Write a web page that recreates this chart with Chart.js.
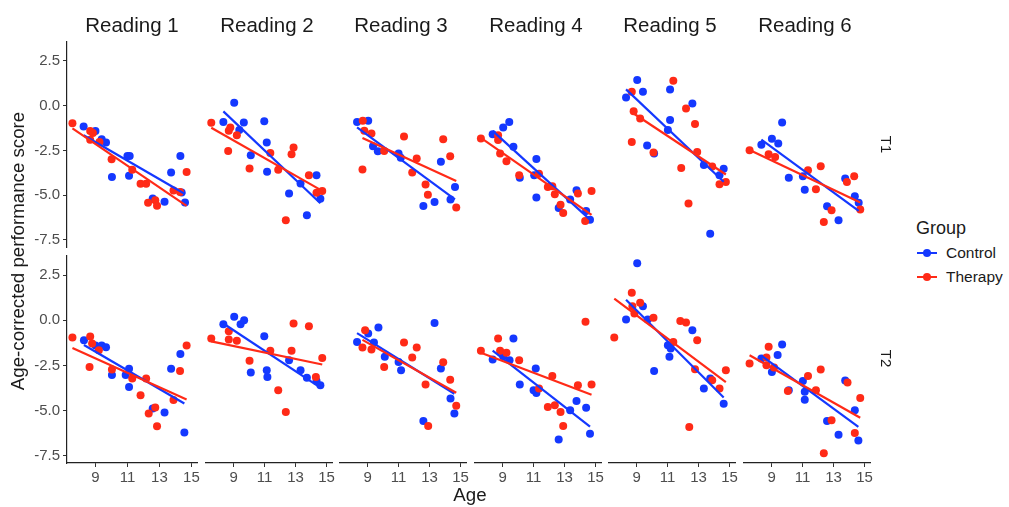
<!DOCTYPE html>
<html>
<head>
<meta charset="utf-8">
<script src="https://cdn.jsdelivr.net/npm/chart.js@4.4.0/dist/chart.umd.min.js"></script>
<style>
  body { margin: 0; background: #fff; width: 1009px; height: 507px; overflow: hidden; position: relative;
         font-family: "Liberation Sans", Arial, sans-serif; color: #1a1a1a; }
  canvas { position: absolute; }
  .lbl { position: absolute; white-space: nowrap; }
  .strip { font-size: 20.5px; text-align: center; width: 130px; top: 13px; }
  .side { font-size: 15px; transform: rotate(90deg); transform-origin: center; }
  .key { position: absolute; height: 2px; width: 20px; }
  .dot { position: absolute; width: 8px; height: 8px; border-radius: 50%; }
</style>
</head>
<body>
<div id="wrap"></div>
<script>
const readings = ["Reading 1", "Reading 2", "Reading 3", "Reading 4", "Reading 5", "Reading 6"];
const times = ["T1", "T2"];
const groups = ["Control", "Therapy"];
const ageTicks = [9, 11, 13, 15];
const scoreTicks = [-7.5, -5, -2.5, 0, 2.5];

// [age, score] pairs
const control_r1_t1 = [[8.26,-1.17],[9.0,-1.42],[9.39,-1.88],[9.66,-2.06],[10.03,-3.98],[11.0,-2.81],[11.14,-2.81],[11.1,-3.91],[12.58,-5.19],[13.32,-5.37],[13.73,-3.73],[14.31,-2.81],[14.39,-4.86],[14.6,-5.41]];
const therapy_r1_t1 = [[7.56,-0.98],[8.67,-1.42],[8.84,-1.53],[8.67,-1.9],[9.25,-2.03],[10.01,-2.99],[11.3,-3.58],[11.82,-4.37],[12.17,-4.37],[12.29,-5.42],[12.74,-5.29],[12.85,-5.6],[13.88,-4.74],[14.29,-4.83],[14.7,-3.71]];
const control_r2_t1 = [[8.34,-0.93],[9.04,0.12],[9.37,-1.38],[9.66,-0.96],[10.11,-2.76],[10.98,-0.89],[11.14,-2.06],[11.16,-3.67],[12.58,-4.86],[13.32,-4.31],[13.73,-6.05],[14.35,-3.86],[14.6,-5.14]];
const therapy_r2_t1 = [[7.56,-0.98],[8.65,-2.52],[8.69,-1.42],[8.79,-1.24],[9.21,-1.66],[10.03,-3.49],[11.37,-2.63],[11.88,-3.55],[12.37,-6.33],[12.74,-2.7],[12.87,-2.34],[13.86,-3.86],[14.35,-4.82],[14.72,-4.72]];
const control_r3_t1 = [[8.32,-0.93],[9.04,-0.87],[9.35,-2.26],[9.66,-2.54],[11.0,-2.67],[11.14,-2.89],[12.6,-5.54],[13.32,-5.32],[13.73,-3.12],[14.35,-5.19],[14.64,-4.5]];
const therapy_r3_t1 = [[8.67,-3.54],[8.69,-0.87],[8.79,-1.42],[9.25,-1.57],[10.07,-2.52],[11.35,-1.73],[11.88,-3.71],[12.17,-2.94],[12.74,-4.37],[12.89,-4.92],[13.88,-1.88],[14.33,-2.81],[14.72,-5.63]];
const control_r4_t1 = [[8.36,-1.61],[9.04,-1.24],[9.43,-0.93],[9.7,-2.3],[10.11,-3.99],[11.04,-3.86],[11.18,-2.96],[11.18,-5.08],[12.62,-5.65],[13.36,-5.19],[13.77,-4.68],[14.39,-5.82],[14.64,-6.3]];
const therapy_r4_t1 = [[7.6,-1.84],[8.71,-1.66],[8.71,-1.93],[8.84,-2.67],[9.25,-3.09],[10.07,-3.86],[11.35,-3.77],[11.92,-4.5],[12.21,-4.46],[12.37,-4.9],[12.74,-5.47],[12.91,-5.93],[13.86,-4.86],[14.33,-6.37],[14.74,-4.72]];
const control_r5_t1 = [[8.32,0.41],[9.04,1.36],[9.41,0.72],[9.68,-2.23],[10.13,-2.67],[11.02,-1.38],[11.16,0.85],[11.16,-0.83],[12.6,0.08],[13.34,-3.3],[13.75,-7.06],[14.35,-3.86],[14.62,-3.5]];
const therapy_r5_t1 = [[8.69,0.72],[8.69,-2.03],[8.81,-0.34],[9.23,-0.74],[10.09,-2.61],[11.37,1.32],[11.88,-3.46],[12.19,-0.19],[12.35,-5.41],[12.77,-1.05],[12.91,-2.58],[13.88,-3.37],[14.35,-4.35],[14.76,-4.22]];
const control_r6_t1 = [[8.34,-2.19],[9.02,-1.86],[9.43,-2.12],[9.68,-0.96],[10.11,-4.0],[11.02,-3.91],[11.14,-4.65],[12.58,-5.56],[13.32,-6.33],[13.75,-4.04],[14.37,-5.01],[14.62,-5.36]];
const therapy_r6_t1 = [[7.58,-2.48],[8.81,-2.7],[9.23,-2.85],[11.35,-3.58],[11.86,-4.63],[12.17,-3.36],[12.37,-6.42],[12.87,-5.78],[13.86,-4.22],[14.33,-3.91],[14.72,-5.74]];

const control_r1_t2 = [[8.28,-1.11],[9.0,-1.4],[9.39,-1.4],[9.66,-1.49],[10.03,-3.03],[10.89,-3.03],[11.1,-2.68],[11.1,-3.69],[12.58,-4.88],[13.32,-5.1],[13.73,-2.68],[14.31,-1.86],[14.56,-6.21]];
const therapy_r1_t2 = [[7.56,-0.95],[8.63,-2.58],[8.67,-0.89],[8.79,-1.29],[9.21,-1.66],[10.03,-2.72],[11.3,-3.22],[11.82,-4.15],[12.17,-3.22],[12.33,-5.16],[12.74,-4.83],[12.85,-5.87],[13.88,-4.41],[14.29,-2.81],[14.7,-1.4]];
const control_r2_t2 = [[8.34,-0.29],[9.04,0.12],[9.45,-0.29],[9.68,-0.07],[10.11,-2.94],[10.98,-0.95],[11.14,-2.81],[11.18,-3.18],[12.58,-2.27],[13.32,-2.81],[13.73,-3.23],[14.35,-3.4],[14.6,-3.64]];
const therapy_r2_t2 = [[7.56,-1.07],[8.69,-0.67],[8.69,-1.13],[9.21,-1.2],[10.03,-2.3],[11.37,-1.75],[11.88,-3.91],[12.37,-5.1],[12.74,-1.75],[12.87,-0.25],[13.86,-0.4],[14.31,-3.18],[14.72,-2.14]];
const control_r3_t2 = [[8.32,-1.27],[9.04,-0.8],[9.41,-1.29],[9.7,-0.47],[10.11,-2.08],[11.0,-2.36],[11.16,-2.81],[12.6,-5.6],[13.32,-0.22],[13.73,-2.72],[14.35,-4.37],[14.6,-5.19]];
const therapy_r3_t2 = [[8.67,-1.57],[8.84,-0.62],[9.25,-1.68],[10.07,-2.63],[11.35,-1.29],[11.88,-2.12],[12.17,-1.57],[12.74,-3.59],[12.91,-5.87],[13.88,-2.38],[14.33,-3.33],[14.72,-4.76]];
const control_r4_t2 = [[8.36,-2.23],[9.04,-2.05],[9.45,-2.26],[9.7,-1.07],[10.11,-3.6],[11.0,-3.91],[11.14,-2.72],[11.18,-4.06],[12.62,-6.61],[13.36,-5.01],[13.77,-4.5],[14.39,-4.87],[14.64,-6.3]];
const therapy_r4_t2 = [[7.6,-1.75],[8.71,-1.07],[8.84,-1.75],[9.25,-1.86],[10.07,-2.26],[11.35,-3.82],[11.92,-4.83],[12.21,-3.13],[12.37,-4.74],[12.74,-5.11],[12.91,-5.87],[13.86,-3.64],[14.35,-0.16],[14.74,-3.59]];
const control_r5_t2 = [[8.32,-0.03],[9.04,3.05],[9.41,0.7],[9.72,-0.03],[10.13,-2.85],[11.02,-1.44],[11.12,-2.08],[11.2,-1.62],[12.6,-0.62],[13.34,-3.82],[13.75,-3.27],[14.62,-4.65]];
const therapy_r5_t2 = [[7.56,-1.02],[8.69,1.44],[8.73,0.7],[8.86,0.3],[9.23,0.89],[10.09,0.06],[11.37,-1.26],[11.82,-0.12],[12.19,-0.19],[12.4,-5.93],[12.77,-2.76],[12.91,-1.17],[13.88,-3.36],[14.35,-3.82],[14.76,-2.81]];
const control_r6_t2 = [[8.34,-2.17],[9.02,-2.91],[9.39,-1.98],[9.68,-1.4],[10.11,-3.91],[11.02,-3.4],[11.14,-4.0],[11.14,-4.43],[12.58,-5.6],[13.32,-6.35],[13.75,-3.38],[14.37,-5.01],[14.6,-6.66]];
const therapy_r6_t2 = [[7.58,-2.45],[8.67,-2.12],[8.67,-2.54],[8.81,-1.53],[9.16,-2.67],[10.05,-3.95],[11.35,-3.13],[11.86,-3.91],[12.17,-2.78],[12.37,-7.36],[12.87,-5.56],[13.9,-3.49],[14.37,-6.25],[14.72,-4.33]];

const controlSets = [
  [control_r1_t1, control_r2_t1, control_r3_t1, control_r4_t1, control_r5_t1, control_r6_t1],
  [control_r1_t2, control_r2_t2, control_r3_t2, control_r4_t2, control_r5_t2, control_r6_t2]
];
const therapySets = [
  [therapy_r1_t1, therapy_r2_t1, therapy_r3_t1, therapy_r4_t1, therapy_r5_t1, therapy_r6_t1],
  [therapy_r1_t2, therapy_r2_t2, therapy_r3_t2, therapy_r4_t2, therapy_r5_t2, therapy_r6_t2]
];

const BLUE = "#1438ff";
const RED = "#ff2a17";
const panelLeft = [67, 202, 336, 471, 605, 740];
const rowTop = [40, 254];
const PW = 130, PH = 209, PAD = 10, YAXW = 50, XAXH = 30;

// straight lm fit over the group's age range (geom_smooth method = "lm")
function fitLine(pts) {
  const n = pts.length;
  const mx = pts.reduce((s, p) => s + p[0], 0) / n;
  const my = pts.reduce((s, p) => s + p[1], 0) / n;
  let sxy = 0, sxx = 0;
  pts.forEach(p => { sxy += (p[0] - mx) * (p[1] - my); sxx += (p[0] - mx) ** 2; });
  const b = sxy / sxx, a = my - b * mx;
  const xs = pts.map(p => p[0]);
  const x0 = Math.min(...xs), x1 = Math.max(...xs);
  return [{ x: x0, y: a + b * x0 }, { x: x1, y: a + b * x1 }];
}

const wrap = document.getElementById("wrap");
const tickFont = { family: "'Liberation Sans', Arial, sans-serif", size: 15 };

function addLabel(text, cls, style) {
  const d = document.createElement("div");
  d.className = "lbl " + cls;
  d.textContent = text;
  Object.assign(d.style, style);
  wrap.appendChild(d);
  return d;
}

for (let r = 0; r < 2; r++) {
  for (let c = 0; c < 6; c++) {
    const cv = document.createElement("canvas");
    const showY = c === 0, showX = r === 1;
    const extraL = showY ? YAXW : 0;
    const extraB = showX ? XAXH : 0;
    cv.width = extraL + PW + PAD;
    cv.height = PAD + PH + extraB + PAD;
    cv.style.left = (panelLeft[c] - extraL) + "px";
    cv.style.top = (rowTop[r] - PAD) + "px";
    wrap.appendChild(cv);

    const ctrl = controlSets[r][c], ther = therapySets[r][c];
    new Chart(cv.getContext("2d"), {
      type: "scatter",
      data: {
        datasets: [
          { type: "line", data: fitLine(ther), borderColor: RED, borderWidth: 2.2, pointRadius: 0, order: 0 },
          { type: "line", data: fitLine(ctrl), borderColor: BLUE, borderWidth: 2.2, pointRadius: 0, order: 1 },
          { label: "Therapy", data: ther.map(p => ({ x: p[0], y: p[1] })), backgroundColor: RED,
            pointRadius: 4, pointBorderWidth: 0, order: 2 },
          { label: "Control", data: ctrl.map(p => ({ x: p[0], y: p[1] })), backgroundColor: BLUE,
            pointRadius: 4, pointBorderWidth: 0, order: 3 }
        ]
      },
      options: {
        responsive: false,
        animation: false,
        events: [],
        layout: { padding: { top: PAD, right: PAD, bottom: PAD, left: 0 } },
        plugins: { legend: { display: false }, tooltip: { enabled: false } },
        scales: {
          x: {
            type: "linear", min: 7.22, max: 15.35, display: showX,
            afterBuildTicks: s => { s.ticks = ageTicks.map(v => ({ value: v })); },
            afterFit: s => { if (showX) s.height = XAXH; },
            grid: { display: true, drawOnChartArea: false, drawTicks: true, tickLength: 4, color: "#333" },
            border: { display: true, color: "#222", width: 1.2 },
            ticks: { color: "#4d4d4d", font: tickFont, padding: 2, maxRotation: 0, autoSkip: false,
                     callback: v => String(v) }
          },
          y: {
            type: "linear", min: -7.9, max: 3.56, display: showY,
            afterBuildTicks: s => { s.ticks = scoreTicks.map(v => ({ value: v })); },
            afterFit: s => { if (showY) s.width = YAXW; },
            grid: { display: true, drawOnChartArea: false, drawTicks: true, tickLength: 4, color: "#333" },
            border: { display: true, color: "#222", width: 1.2 },
            ticks: { color: "#4d4d4d", font: tickFont, padding: 3, autoSkip: false,
                     callback: v => v.toFixed(1) }
          }
        }
      }
    });
  }
}

readings.forEach((t, c) => addLabel(t, "strip", { left: panelLeft[c] + "px" }));
times.forEach((t, r) => {
  addLabel(t, "side", { left: "876px", width: "20px", textAlign: "center",
                        top: (rowTop[r] + PH / 2 - 9) + "px" });
});
addLabel("Age-corrected performance score", "", {
  fontSize: "18.7px", left: "-132px", top: "240px", width: "300px", textAlign: "center",
  transform: "rotate(-90deg)"
});
addLabel("Age", "", { fontSize: "18.7px", left: "446px", top: "484px", width: "48px", textAlign: "center" });

// legend
addLabel("Group", "", { fontSize: "18px", left: "916px", top: "218px" });
[BLUE, RED].forEach((col, i) => {
  const y = 253 + i * 24;
  const k = document.createElement("div");
  k.className = "key"; k.style.background = col; k.style.left = "917px"; k.style.top = (y - 1) + "px";
  wrap.appendChild(k);
  const d = document.createElement("div");
  d.className = "dot"; d.style.background = col; d.style.left = "923px"; d.style.top = (y - 4) + "px";
  wrap.appendChild(d);
  addLabel(groups[i], "", { fontSize: "15.5px", left: "946px", top: (y - 9) + "px" });
});
</script>
</body>
</html>
